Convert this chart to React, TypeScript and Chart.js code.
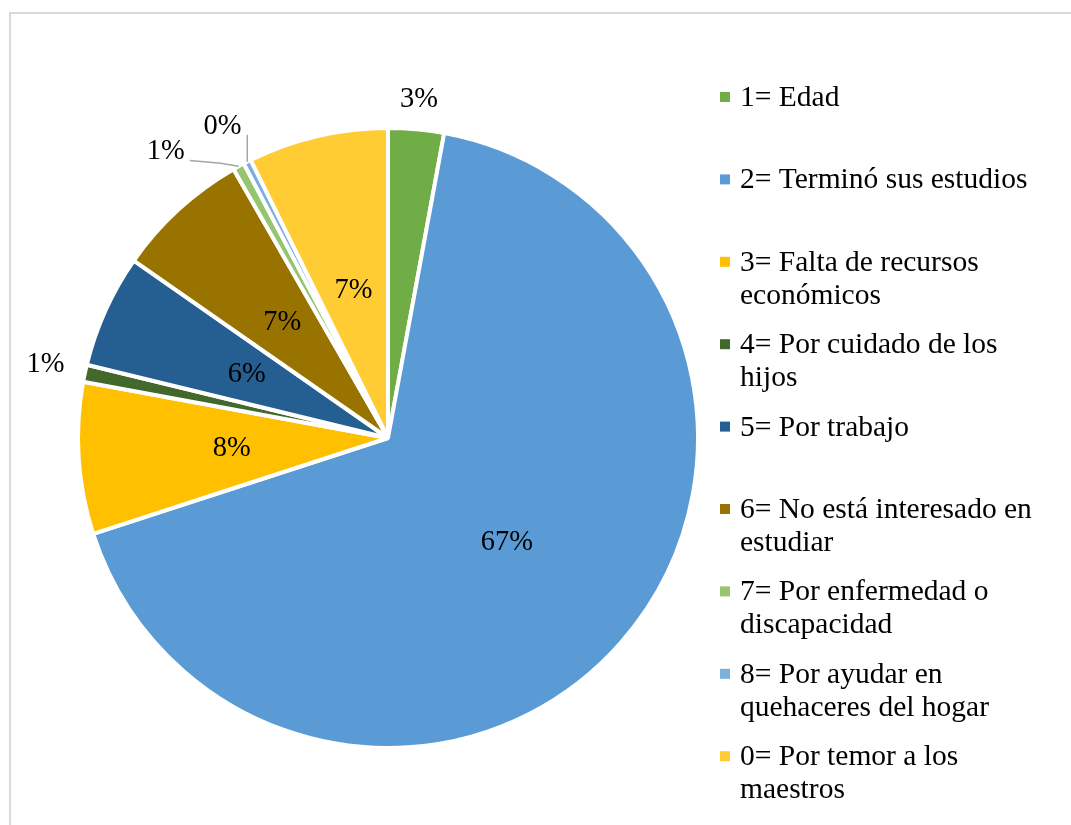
import React, { useEffect, useRef } from 'react';
import { Chart, registerables } from 'chart.js';

Chart.register(...registerables);

const categories = [
  '1= Edad',
  '2= Terminó sus estudios',
  '3= Falta de recursos económicos',
  '4= Por cuidado de los hijos',
  '5= Por trabajo',
  '6= No está interesado en estudiar',
  '7= Por enfermedad o discapacidad',
  '8= Por ayudar en quehaceres del hogar',
  '0= Por temor a los maestros',
];
const shares = [2.9, 67.1, 7.9, 0.9, 5.9, 7.0, 0.6, 0.4, 7.3];
const sliceColors = [
  '#70AD47',
  '#5B9BD5',
  '#FFC000',
  '#43682B',
  '#255E91',
  '#997300',
  '#96C56F',
  '#7CAFDD',
  '#FFCD33',
];

// label placement style per slice: radius factor, angle shift (deg), leader type
const labelRadius = [1.095, 0.51, 0.505, 1.13, 0.5, 0.505, 1.17, 1.137, 0.49];
const labelShift = [0, 0, 0, 0, 0, 0, -9, -1, 0];
const labelLeader = ['', '', '', '', '', '', 'h', 'v', ''];

const FONT = '"Liberation Serif", "Times New Roman", serif';

const labelPlugin = {
  id: 'pctLabels',
  afterDatasetsDraw(chart: any) {
    const ctx = chart.ctx;
    const meta = chart.getDatasetMeta(0);
    const values = chart.data.datasets[0].data as number[];
    const total = values.reduce((a, b) => a + b, 0);
    ctx.save();
    ctx.font = `28.5px ${FONT}`;
    ctx.fillStyle = '#000';
    ctx.textAlign = 'center';
    ctx.textBaseline = 'middle';
    meta.data.forEach((arc: any, i: number) => {
      const p = arc.getProps(['x', 'y', 'startAngle', 'endAngle', 'outerRadius'], true);
      const mid = (p.startAngle + p.endAngle) / 2;
      const a = mid + (labelShift[i] * Math.PI) / 180;
      const r = p.outerRadius * labelRadius[i];
      const lx = p.x + r * Math.cos(a);
      const ly = p.y + r * Math.sin(a);
      const text = Math.round((values[i] / total) * 100) + '%';
      ctx.fillText(text, lx, ly);
      if (labelLeader[i]) {
        const ex = p.x + p.outerRadius * Math.cos(mid);
        const ey = p.y + p.outerRadius * Math.sin(mid);
        ctx.strokeStyle = '#A6A6A6';
        ctx.lineWidth = 1.5;
        ctx.beginPath();
        ctx.moveTo(ex, ey);
        if (labelLeader[i] === 'h') {
          ctx.lineTo(ex - 18, ey - 3);
          ctx.lineTo(lx + 24, ly + 9);
        } else {
          ctx.lineTo(ex, ly + 8);
        }
        ctx.stroke();
      }
    });
    ctx.restore();
  },
};

function wrap(ctx: CanvasRenderingContext2D, text: string, maxW: number): string[] {
  const words = text.split(' ');
  const lines: string[] = [];
  let cur = '';
  for (const w of words) {
    const t = cur ? cur + ' ' + w : w;
    if (ctx.measureText(t).width > maxW && cur) {
      lines.push(cur);
      cur = w;
    } else {
      cur = t;
    }
  }
  if (cur) lines.push(cur);
  return lines;
}

const legendPlugin = {
  id: 'sideLegend',
  afterDraw(chart: any) {
    const ctx = chart.ctx;
    const labels = chart.data.labels as string[];
    const colors = chart.data.datasets[0].backgroundColor as string[];
    ctx.save();
    ctx.font = `29.5px ${FONT}`;
    ctx.textAlign = 'left';
    ctx.textBaseline = 'alphabetic';
    labels.forEach((lab, i) => {
      const cy = 96 + 82.4 * i;
      ctx.fillStyle = colors[i];
      ctx.fillRect(720, cy - 4, 10, 10);
      ctx.fillStyle = '#000';
      const lines = wrap(ctx, lab, 305);
      lines.forEach((ln, k) => {
        ctx.fillText(ln, 740, cy + 10 + k * 33);
      });
    });
    ctx.restore();
  },
};

export default function App() {
  const ref = useRef<HTMLCanvasElement>(null);
  useEffect(() => {
    document.body.style.overflow = 'hidden';
    document.documentElement.style.overflow = 'hidden';
    const chart = new Chart(ref.current as HTMLCanvasElement, {
      type: 'pie',
      data: {
        labels: categories,
        datasets: [
          {
            data: shares,
            backgroundColor: sliceColors,
            borderColor: '#FFFFFF',
            borderWidth: 4,
          },
        ],
      },
      options: {
        responsive: false,
        animation: false,
        layout: { padding: { left: 76, top: 126, right: 371, bottom: 75 } },
        plugins: { legend: { display: false }, tooltip: { enabled: false } },
      },
      plugins: [labelPlugin, legendPlugin],
    } as any);
    return () => chart.destroy();
  }, []);
  return (
    <div style={{ position: 'fixed', left: 0, top: 0, width: 1071, height: 825, background: '#fff', overflow: 'hidden' }}>
      <div
        style={{
          position: 'absolute',
          left: 9,
          top: 12,
          width: 1100,
          height: 900,
          border: '2px solid #D9D9D9',
        }}
      />
      <canvas ref={ref} width={1071} height={825} style={{ position: 'absolute', left: 0, top: 0 }} />
    </div>
  );
}
